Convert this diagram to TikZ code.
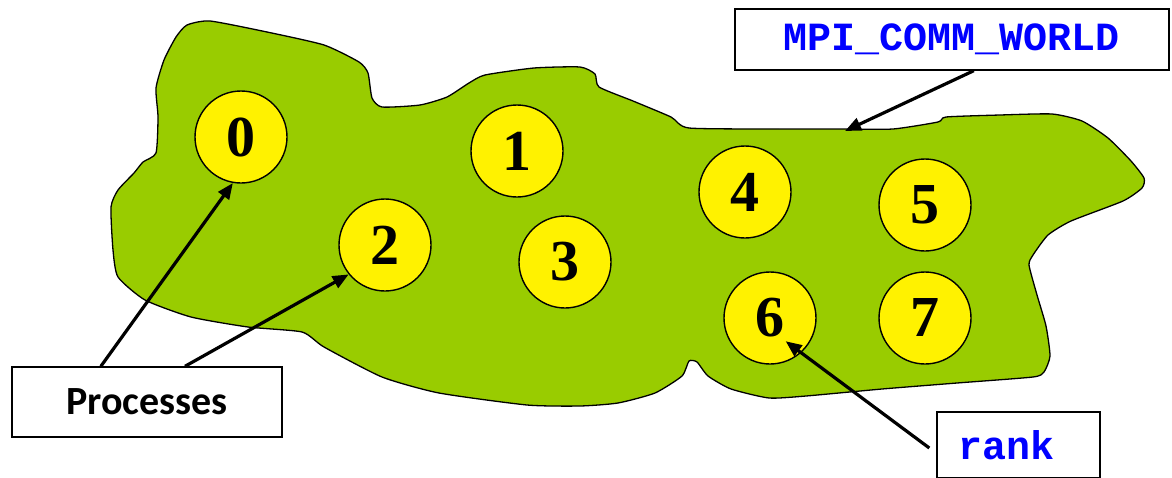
\documentclass[tikz,border=0pt]{standalone}
\usepackage{fontspec}
\setmainfont{Liberation Serif}
\newfontfamily\labelfont{Carlito}
\newfontfamily\codefont{Liberation Mono}
\usetikzlibrary{calc, arrows.meta}
\definecolor{blobgreen}{RGB}{153,204,0}
\definecolor{codeblue}{RGB}{0,0,255}

\begin{document}
\begin{tikzpicture}[x=1pt, y=-1pt, thick,
  proc/.style={circle, draw, fill=yellow, line width=1.4pt, minimum size=92pt,
    inner sep=0pt, font=\fontsize{58}{58}\selectfont\bfseries},
  tagbox/.style={draw, fill=white, line width=1.4pt, inner sep=0pt},
  pointer/.style={line width=3.2pt, -{Triangle[length=16pt, width=13pt]}}]
  \useasboundingbox (0,0) rectangle (1172,477);
  % 通信域（不规则区域）
  \draw[fill=blobgreen, line width=1.3pt] plot[smooth cycle, tension=0.35] coordinates {
    (210,21) (267,32) (324,45) (359,62) (368,73) (372,98) (382,107) (420,105)
    (447,97) (469,83) (485,75) (534,68) (580,67) (595,74) (599,87) (633,101)
    (671,117) (689,128) (780,129) (844,129) (893,129) (938,122) (946,117)
    (1000,115) (1052,114) (1082,121) (1108,138) (1131,161) (1144,178) (1142,188)
    (1123,201) (1071,221) (1048,235) (1033,255) (1029,265) (1037,295) (1046,326)
    (1050,356) (1044,372) (1033,377) (957,383) (882,389) (806,396) (769,398)
    (731,389) (708,376) (697,362) (689,361) (682,376) (655,393) (618,403)
    (580,406) (527,405) (439,393) (382,377) (324,347) (302,332) (248,327)
    (191,317) (145,300) (118,277) (113,250) (111,207) (118,190) (134,173)
    (143,162) (156,153) (158,117) (156,88) (164,60) (176,37) (187,25)};
  % 进程
  \foreach \n/\x/\y in {0/241/137, 1/517/151, 2/385/245, 3/565/262,
                        4/745/192, 5/925/205, 6/770/318, 7/925/318}
    \node[proc] (p\n) at (\x,\y) {\n};
  % 标注框
  \node[tagbox, minimum width=270pt, minimum height=70pt,
        font=\labelfont\fontsize{40}{40}\selectfont\bfseries] (procbox) at (147,402) {Processes};
  \node[tagbox, minimum width=434pt, minimum height=61pt, text=codeblue,
        font=\codefont\fontsize{40}{40}\selectfont\bfseries] (worldbox) at (952,39.5) {MPI\_COMM\_WORLD};
  \node[tagbox, minimum height=66pt, inner xsep=21pt, text width=121pt, align=left,
        text=codeblue, font=\codefont\fontsize{40}{40}\selectfont\bfseries] (rankbox) at (1018.5,445) {rank};
  \coordinate (rim) at (845,131);
  % 箭头
  \draw[pointer] ($(procbox.north west)!0.33!(procbox.north east)$) -- (p0.-100);
  \draw[pointer] ($(procbox.north west)!0.64!(procbox.north east)$) -- (p2.219);
  \draw[pointer] ($(worldbox.south west)!0.55!(worldbox.south east)$) -- (rim);
  \draw[pointer] ([xshift=-7pt, yshift=-3pt]rankbox.west) -- ($(p6)!0.6!(p6.-56)$);
\end{tikzpicture}
\end{document}
